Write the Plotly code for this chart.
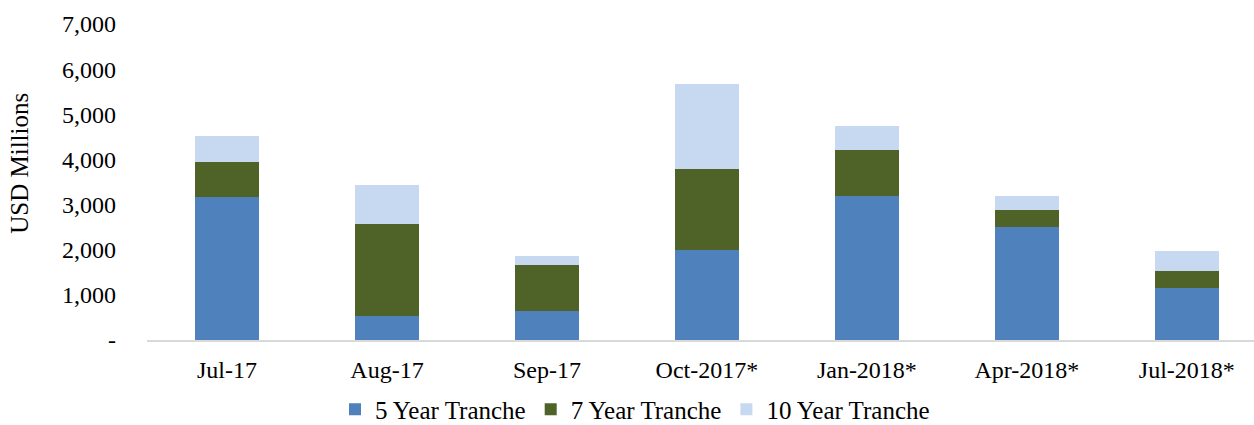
import plotly.graph_objects as go

categories = ["Jul-17", "Aug-17", "Sep-17", "Oct-2017*", "Jan-2018*", "Apr-2018*", "Jul-2018*"]
tranche_5y = [3170, 530, 650, 2000, 3200, 2495, 1150]
tranche_7y = [775, 2050, 1015, 1780, 1000, 395, 385]
tranche_10y = [565, 858, 190, 1900, 550, 308, 433]

series = [
    ("5 Year Tranche", tranche_5y, "#4F81BD"),
    ("7 Year Tranche", tranche_7y, "#4F6228"),
    ("10 Year Tranche", tranche_10y, "#C6D9F1"),
]

y_ticks = [0, 1000, 2000, 3000, 4000, 5000, 6000, 7000]
y_ticktext = ["-", "1,000", "2,000", "3,000", "4,000", "5,000", "6,000", "7,000"]

font_family = "Liberation Serif, Times New Roman, serif"

fig = go.Figure()
for name, vals, color in series:
    fig.add_trace(go.Bar(x=categories, y=vals, name=name,
                         marker=dict(color=color, line=dict(width=0))))

W, H = 1254, 425
left, right_px = 147, 1254
top_px, zero_px = 24, 340.5
plot_h = zero_px - top_px
plot_w = right_px - left

fig.update_layout(
    width=W, height=H,
    barmode="stack", bargap=0.6,
    paper_bgcolor="white", plot_bgcolor="white",
    margin=dict(l=left, r=W - right_px, t=top_px, b=H - zero_px, autoexpand=False),
    font=dict(family=font_family, size=22, color="black"),
    xaxis=dict(range=[-0.5, 6.42], showline=True, linecolor="#d9d9d9", linewidth=2,
               showgrid=False, ticks="", tickfont=dict(size=24), ticklabelstandoff=7),
    yaxis=dict(range=[0, 7000], tickvals=y_ticks, ticktext=y_ticktext, showgrid=False,
               zeroline=False, showline=False, ticks="", tickfont=dict(size=24),
               ticklabelstandoff=30),
    legend=dict(orientation="h", x=(335 - left) / plot_w, xanchor="left",
                y=(zero_px - 410) / plot_h, yanchor="middle",
                bgcolor="rgba(0,0,0,0)",
                font=dict(size=25), itemwidth=30, traceorder="normal"),
    showlegend=True,
    annotations=[dict(text="USD Millions", textangle=-90, xref="paper", yref="paper",
                      x=(20 - left) / plot_w, y=(zero_px - 164) / plot_h,
                      xanchor="center", yanchor="middle", showarrow=False,
                      font=dict(size=25))],
)

fig.write_html("out.html", config={"displayModeBar": False},
               post_script="document.body.style.margin='0';document.body.style.overflow='hidden';")
